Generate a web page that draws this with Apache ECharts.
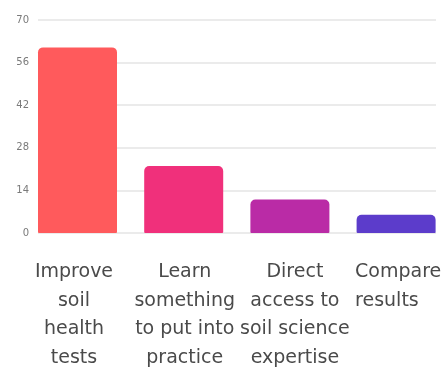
<!DOCTYPE html>
<html>
<head>
<meta charset="utf-8">
<script src="https://cdn.jsdelivr.net/npm/echarts@6/dist/echarts.min.js"></script>
<style>
  html, body { margin: 0; padding: 0; background: #ffffff; }
  #chart { width: 446px; height: 368px; }
</style>
</head>
<body>
<div id="chart"></div>
<script>
// Reasons given, with how many respondents chose each
const categories = [
  'Improve\nsoil\nhealth\ntests',
  'Learn\nsomething\nto put into\npractice',
  'Direct\naccess to\nsoil science\nexpertise',
  'Compare\nresults'
];
const values = [61, 22, 11, 6];
const yTicks = [0, 14, 28, 42, 56, 70];

const barColors = ['#ff5a5c', '#f0307b', '#ba2ba6', '#5c3ccb'];

// Per-category label block styles (nudges and the left-aligned last column)
const labelFont = { color: '#4a4a4a', fontFamily: 'DejaVu Sans', fontSize: 19, lineHeight: 28.5 };
const labelRich = {
  c0: Object.assign({ padding: [0, 7, 0, 0] }, labelFont),
  c1: Object.assign({ padding: [0, 0, 0, 2] }, labelFont),
  c2: Object.assign({ padding: [0, 0, 0, 10] }, labelFont),
  c3: Object.assign({ width: 82, align: 'left' }, labelFont)
};

const chart = echarts.init(document.getElementById('chart'), null, { renderer: 'canvas' });

const yMin = yTicks[0];
const yMax = yTicks[yTicks.length - 1];
const yStep = yTicks[1] - yTicks[0];

chart.setOption({
  backgroundColor: '#ffffff',
  animation: false,
  grid: [
    // value scale with gridlines
    { left: 38, top: 20, width: 398, height: 213, containLabel: false, outerBoundsMode: 'none' },
    // bars laid out edge to edge across the plot
    { left: 24.4, top: 20, width: 424.8, height: 213, containLabel: false, outerBoundsMode: 'none' }
  ],
  xAxis: [
    { type: 'value', gridIndex: 0, show: false, min: 0, max: 1 },
    {
      type: 'category',
      gridIndex: 1,
      data: categories,
      axisLine: { show: false },
      axisTick: { show: false },
      axisLabel: {
        interval: 0,
        margin: 25,
        align: 'center',
        verticalAlign: 'top',
        lineHeight: 28.5,
        fontSize: 19,
        fontFamily: 'DejaVu Sans',
        color: '#4a4a4a',
        formatter: (value, index) => value
          .split('\n')
          .map(line => '{c' + index + '|' + line + '}')
          .join('\n'),
        rich: labelRich
      }
    }
  ],
  yAxis: [
    {
      type: 'value',
      gridIndex: 0,
      min: yMin,
      max: yMax,
      interval: yStep,
      axisLine: { show: false },
      axisTick: { show: false },
      axisLabel: {
        margin: 9,
        color: '#7a7a7a',
        fontFamily: 'DejaVu Sans',
        fontSize: 10
      },
      splitLine: { lineStyle: { color: '#e4e4e4', width: 1.5 } }
    },
    {
      type: 'value',
      gridIndex: 1,
      min: yMin,
      max: yMax,
      show: false,
      splitLine: { show: false }
    }
  ],
  series: [
    {
      type: 'bar',
      xAxisIndex: 1,
      yAxisIndex: 1,
      barWidth: 79,
      data: values.map((v, i) => ({
        value: v,
        itemStyle: { color: barColors[i], borderRadius: [5, 5, 1, 1] }
      }))
    }
  ]
});
</script>
</body>
</html>
